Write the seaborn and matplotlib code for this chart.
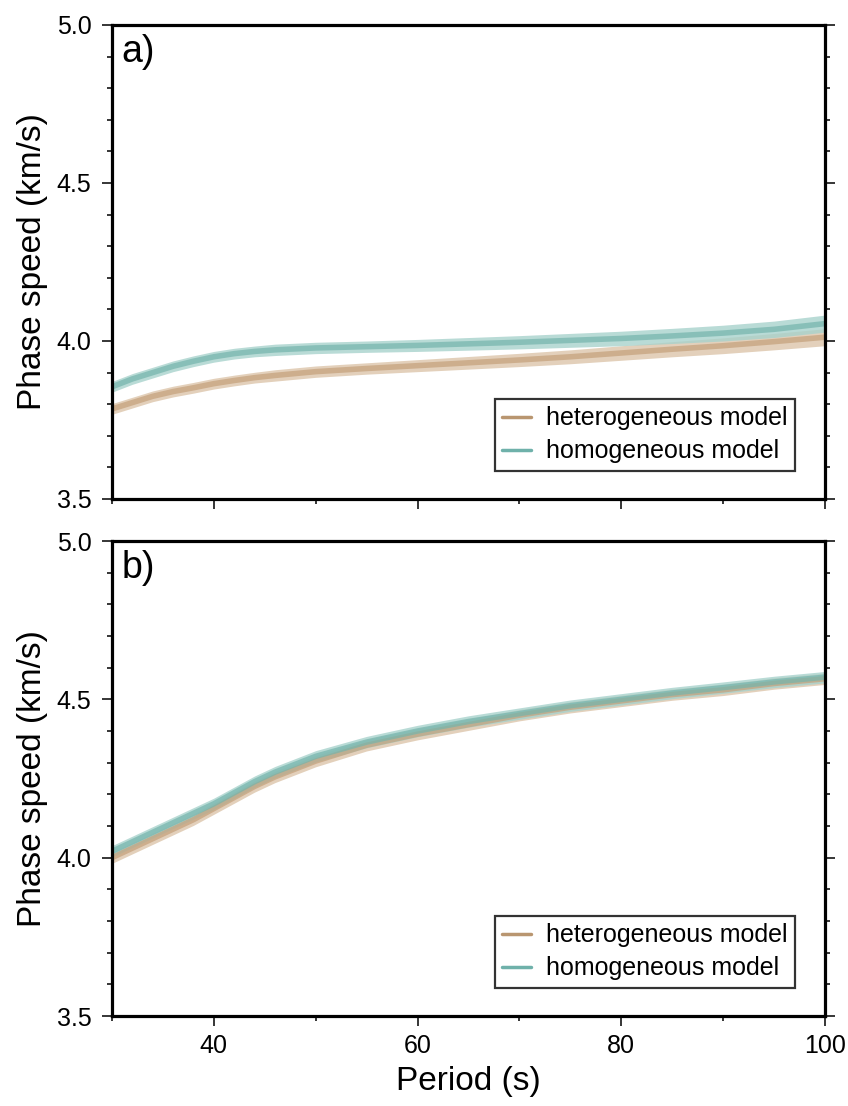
import numpy as np
import pandas as pd
import matplotlib
matplotlib.use("Agg")
import matplotlib.pyplot as plt
from matplotlib.ticker import MultipleLocator
from matplotlib.lines import Line2D
import seaborn as sns

sns.set_style("white")
plt.rcParams['font.family'] = ['Liberation Sans', 'DejaVu Sans']
plt.rcParams['text.color'] = 'black'
plt.rcParams['axes.labelcolor'] = 'black'
plt.rcParams['xtick.color'] = 'black'
plt.rcParams['ytick.color'] = 'black'

# ---------------- data ----------------
period = [30, 32, 34, 36, 38, 40, 42, 44, 46, 48, 50, 55, 60, 65, 70, 75, 80, 85, 90, 95, 100]

# panel a
het_a = [3.785, 3.805, 3.825, 3.840, 3.852, 3.865, 3.875, 3.884, 3.891, 3.897, 3.903, 3.913,
         3.922, 3.931, 3.940, 3.950, 3.962, 3.974, 3.985, 3.998, 4.012]
hom_a = [3.855, 3.880, 3.900, 3.920, 3.936, 3.950, 3.960, 3.967, 3.972, 3.975, 3.978, 3.982,
         3.986, 3.991, 3.996, 4.002, 4.008, 4.016, 4.025, 4.037, 4.055]
# panel b
het_b = [4.000, 4.030, 4.060, 4.090, 4.120, 4.155, 4.190, 4.225, 4.255, 4.280, 4.305, 4.355,
         4.390, 4.420, 4.450, 4.475, 4.495, 4.515, 4.530, 4.550, 4.565]
hom_b = [4.020, 4.050, 4.080, 4.110, 4.140, 4.170, 4.205, 4.240, 4.270, 4.295, 4.320, 4.365,
         4.400, 4.430, 4.455, 4.480, 4.500, 4.520, 4.537, 4.555, 4.570]
# band half-widths (uncertainty spread)
spread_a = [0.017, 0.017, 0.017, 0.017, 0.017, 0.017, 0.017, 0.017, 0.018, 0.018, 0.018, 0.018,
            0.019, 0.020, 0.021, 0.022, 0.023, 0.024, 0.025, 0.026, 0.027]
spread_b = [0.018, 0.018, 0.018, 0.018, 0.018, 0.018, 0.018, 0.018, 0.018, 0.018, 0.018, 0.018,
            0.018, 0.018, 0.018, 0.018, 0.018, 0.018, 0.018, 0.018, 0.018]

labels = ["heterogeneous model", "homogeneous model"]
panel_labels = ["a)", "b)"]
yticks = [3.5, 4.0, 4.5, 5.0]
xticks = [40, 60, 80, 100]

c_het = "#c4a07a"
c_hom = "#74b4ac"
c_het_band = "#dcc5aa"
c_hom_band = "#a8d2cc"
c_het_leg = "#b99670"
c_hom_leg = "#6fb1aa"

fig = plt.figure(figsize=(8.48, 11.06), dpi=100)
W, H = 848, 1106
ax_a = fig.add_axes([112 / W, 1 - 499 / H, (825 - 112) / W, (499 - 25) / H])
ax_b = fig.add_axes([112 / W, 1 - 1016 / H, (825 - 112) / W, (1016 - 541) / H])

panels = [(ax_a, het_a, hom_a, spread_a, panel_labels[0]),
          (ax_b, het_b, hom_b, spread_b, panel_labels[1])]

for ax, het, hom, spr, plabel in panels:
    df = pd.DataFrame({
        "period": period * 2,
        "speed": het + hom,
        "model": [labels[0]] * len(period) + [labels[1]] * len(period),
    })
    p = np.array(period)
    for vals, band in [(het, c_het_band), (hom, c_hom_band)]:
        v = np.array(vals)
        s = np.array(spr)
        ax.fill_between(p, v - s, v + s, color=band, alpha=0.8, lw=0, zorder=1)
    sns.lineplot(data=df, x="period", y="speed", hue="model",
                 palette={labels[0]: c_het, labels[1]: c_hom},
                 linewidth=4, alpha=0.7, ax=ax, legend=False, zorder=2)

    ax.set_xlim(30, 100)
    ax.set_ylim(3.5, 5.0)
    ax.set_yticks(yticks)
    ax.yaxis.set_minor_locator(MultipleLocator(0.1))
    ax.xaxis.set_minor_locator(MultipleLocator(10))
    ax.set_xticks(xticks)
    ax.tick_params(axis="y", which="both", left=True, right=True, direction="out",
                   labelsize=18)
    ax.tick_params(axis="x", which="both", bottom=True, top=False, direction="out",
                   labelsize=18)
    ax.tick_params(which="major", length=7.2, width=1.1, color="black")
    ax.tick_params(which="minor", length=3.6, width=1.1, color="black")
    ax.tick_params(axis="y", which="major", pad=7.5)
    ax.tick_params(axis="x", which="major", pad=5.5)
    for sp in ax.spines.values():
        sp.set_linewidth(2.3)
        sp.set_color("black")
    ax.set_ylabel("Phase speed (km/s)", fontsize=24, labelpad=6)
    ax.set_xlabel("")
    ax.text(0.013, 0.982, plabel, transform=ax.transAxes, fontsize=27,
            va="top", ha="left")

    handles = [Line2D([0], [0], color=c_het_leg, lw=2.5),
               Line2D([0], [0], color=c_hom_leg, lw=2.5)]
    leg = ax.legend(handles, labels, loc="lower right", bbox_to_anchor=(0.958, 0.06),
                    fontsize=18, frameon=True, fancybox=False, edgecolor="black",
                    handlelength=1.15, handletextpad=0.6, borderpad=0.3,
                    labelspacing=0.35, borderaxespad=0, handleheight=0.6)
    leg.get_frame().set_linewidth(1.6)

ax_a.tick_params(axis="x", labelbottom=False)
ax_b.set_xlabel("Period (s)", fontsize=24, labelpad=6)

fig.savefig("out.png", dpi=100)
